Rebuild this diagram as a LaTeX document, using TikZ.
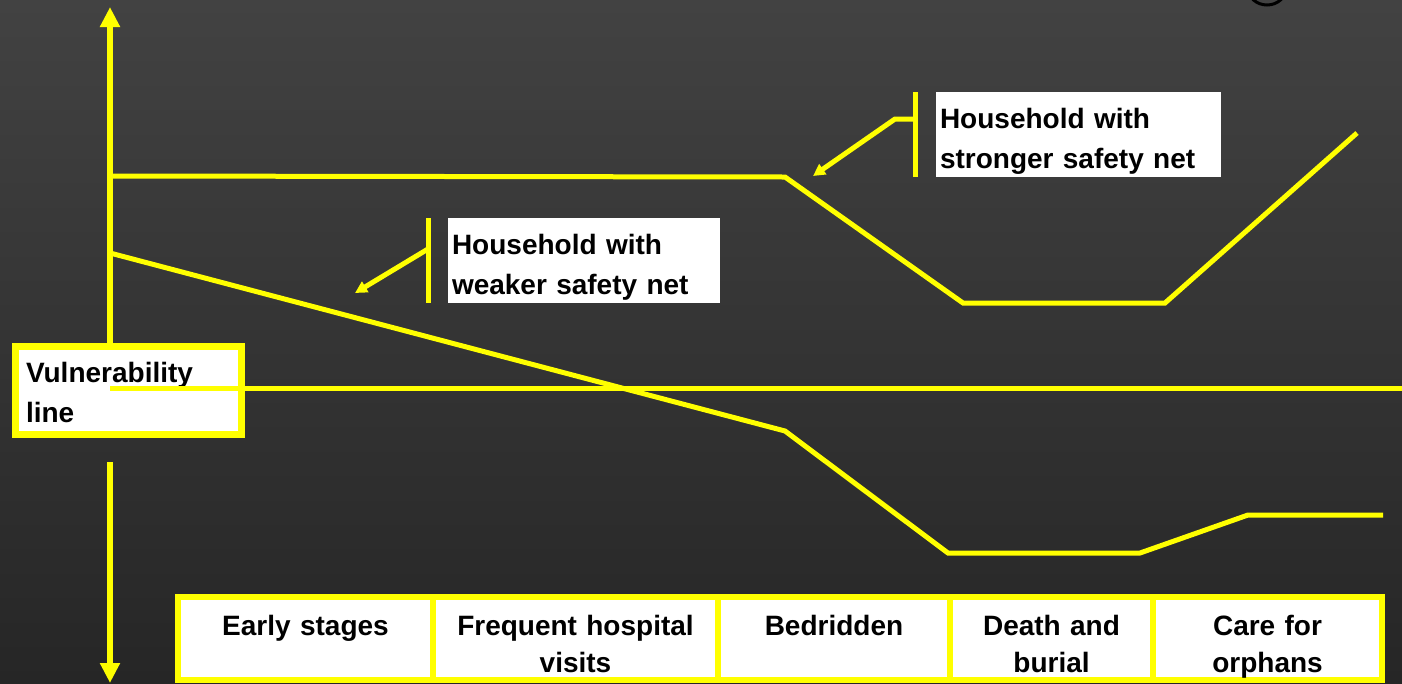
\documentclass[tikz,border=0pt]{standalone}
\usepackage{fontspec}
\setmainfont{Liberation Sans}
\usetikzlibrary{arrows.meta}
\definecolor{ylw}{HTML}{FFFF00}
\definecolor{bgtop}{HTML}{424242}
\definecolor{bgbot}{HTML}{262626}
\begin{document}
\begin{tikzpicture}[x=1pt,y=-1pt,
  txt/.style={font=\fontsize{28}{40}\selectfont\bfseries, text=black},
  plotline/.style={draw=ylw, line width=5pt, line join=miter},
  axisline/.style={draw=ylw, line width=6pt},
  axistip/.style={-{Triangle[width=19pt,length=20pt]}},
  callline/.style={draw=ylw, line width=5pt},
  calltip/.style={-{Triangle[width=12pt,length=12pt]}},
  labelbox/.style={txt, fill=white, inner sep=0pt, align=left,
    text height=36pt, text depth=49pt},
  vulbox/.style={txt, fill=white, draw=ylw, line width=7pt, inner sep=0pt,
    align=left, text width=205pt, minimum width=226pt,
    text height=35.5pt, text depth=52.5pt},
  cell/.style={txt, fill=white, draw=ylw, line width=6pt, inner sep=0pt,
    align=center, font=\fontsize{28}{37}\selectfont\bfseries,
    text height=38pt, text depth=45pt},
]
% background
\fill[top color=bgtop, bottom color=bgbot] (0,0) rectangle (1402,683);
\useasboundingbox (0,0) rectangle (1402,683);
% clipped glyph remnant at top right
\draw[black, line width=3pt] (1267,-12) ellipse [x radius=19, y radius=17];

% vulnerability box
\node[vulbox] (vul) at (128.5,390.5) {Vulnerability\\line};

% axis
\coordinate (ytop) at (110,7);
\coordinate (ybot) at (110,683);
\coordinate (ylow) at (110,462);
\draw[axisline, axistip] (vul.north -| ytop) -- (ytop);
\draw[axisline, axistip] (ylow) -- (ybot);

% stronger safety net line
\draw[plotline] (110,176) -- (785,177) -- (963,303) -- (1165,303) -- (1357,133);
% weaker safety net line
\draw[plotline] (110,253) -- (785,431) -- (948,553) -- (1140,553) -- (1248,515) -- (1383,515);
% vulnerability line (drawn over the box)
\coordinate (vstart) at (110,388);
\coordinate (vend) at (1402,388);
\draw[plotline] (vstart) -- (vend);

% labels
\node[labelbox, text width=277pt, minimum width=285pt] (strong) at (1078.5,134.5)
  {Household with\\stronger safety net};
\node[labelbox, text width=264pt, minimum width=272pt] (weak) at (584,260.5)
  {Household with\\weaker safety net};

% callouts
\coordinate (sbt) at (915,92);
\coordinate (sbb) at (915,177);
\coordinate (sbm) at (915,119);
\coordinate (sbk) at (895,119);
\coordinate (stip) at (813,176);
\draw[callline] (sbt) -- (sbb);
\draw[callline, calltip] (sbm) -- (sbk) -- (stip);

\coordinate (wbt) at (428,218);
\coordinate (wbb) at (428,303);
\coordinate (wbm) at (428,249);
\coordinate (wtip) at (355,293);
\draw[callline] (wbt) -- (wbb);
\draw[callline, calltip] (wbm) -- (wtip);

% stage cells
\node[cell, minimum width=255pt, text width=245pt] (c1) at (305.5,638.5) {Early stages};
\node[cell, minimum width=285pt, text width=275pt] (c2) at (575.5,638.5) {Frequent hospital\\visits};
\node[cell, minimum width=232pt, text width=222pt] (c3) at (834,638.5) {Bedridden};
\node[cell, minimum width=203pt, text width=193pt] (c4) at (1051.5,638.5) {Death and\\burial};
\node[cell, minimum width=229pt, text width=219pt] (c5) at (1267.5,638.5) {Care for\\orphans};
\end{tikzpicture}
\end{document}
